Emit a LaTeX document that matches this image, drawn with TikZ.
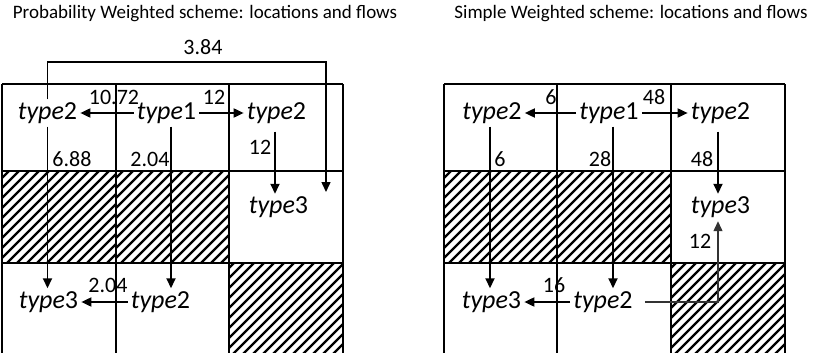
\documentclass[tikz,border=0pt]{standalone}
\usepackage{fontspec}
\setmainfont{Carlito}
\usepackage{tikz}
\usetikzlibrary{arrows.meta}

\begin{document}
\begin{tikzpicture}[
  x=1pt,
  y=-1pt,
  every node/.style={font=\fontsize{22}{25}\selectfont},
  title/.style={font=\fontsize{19}{23}\selectfont},
  loc/.style={inner sep=3pt, font=\fontsize{26}{29}\selectfont},
  val/.style={inner sep=0pt},
  grid/.style={draw=black, line width=1.3pt},
  hatch/.style={draw=black, line width=2.3pt},
  flow/.style={-{Triangle[length=10pt,width=9pt]}, draw=black, line width=1.8pt},
  bracket/.style={-{Triangle[length=10pt,width=9pt]}, draw=black, line width=1.5pt}
]
\useasboundingbox (0,0) rectangle (816,353);

% hatched (blocked) cells
\foreach \cx/\cy/\cw/\ch in {2/171/114/92, 116/171/113/92, 229/263/114/90,
    444/171/113/92, 557/171/114/92, 671/263/114/90} {
  \begin{scope}
    \clip (\cx,\cy) rectangle ++(\cw,\ch);
    \foreach \k in {0,...,22}
      \draw[hatch] (\cx-100+\k*10,\cy+\ch+5) -- ++(110,-110);
  \end{scope}
}

% grids
\foreach \gx in {2,116,229,343,444,557,671,785}
  \draw[grid] (\gx,84) -- (\gx,353);
\foreach \gy in {84,171,263} {
  \draw[grid] (2,\gy) -- (343,\gy);
  \draw[grid] (444,\gy) -- (785,\gy);
}

% Probability Weighted scheme
\node[title] (pwtitle) at (205,14) {Probability Weighted scheme: locations and flows};

\node[loc] (pwtwo) at (47.5,113) {\textit{type}2};
\node[loc] (pwone) at (166.5,113) {\textit{type}1};
\node[loc] (pwtworight) at (276.5,113) {\textit{type}2};
\node[loc] (pwthree) at (278.5,207.5) {\textit{type}3};
\node[loc] (pwthreelow) at (48.5,302) {\textit{type}3};
\node[loc] (pwtwolow) at (160.5,302) {\textit{type}2};

\coordinate (pwbend) at (326,62);
\coordinate (pwend) at (326,192);
\draw[bracket] (pwtwo.north) |- (pwbend) -- (pwend);
\node[val] (pwlong) at (203,47) {3.84};

\draw[flow] (pwone.west) -- (pwtwo.east);
\node[val] (pwleft) at (114,97) {10.72};
\draw[flow] (pwone.east) -- (pwtworight.west);
\node[val] (pwright) at (214,97) {12};

\draw[flow, shorten <=5pt] ([xshift=-1.5pt]pwtworight.south) -- ([xshift=-1.5pt]pwtworight.south |- pwthree.north);
\node[val] (pwdownright) at (260,147) {12};

\draw[flow] (pwtwo.south) -- (pwtwo.south |- pwthreelow.north);
\node[val] (pwdownleft) at (72,159) {6.88};
\draw[flow] ([xshift=4.5pt]pwone.south) -- ([xshift=4.5pt]pwone.south |- pwtwolow.north);
\node[val] (pwdownmid) at (150,159) {2.04};

\draw[flow] (pwtwolow.west) -- (pwthreelow.east);
\node[val] (pwlow) at (108,285) {2.04};

% Simple Weighted scheme
\node[title] (swtitle) at (631,14) {Simple Weighted scheme: locations and flows};

\node[loc] (swtwo) at (492,113) {\textit{type}2};
\node[loc] (swone) at (609,113) {\textit{type}1};
\node[loc] (swtworight) at (720.5,113) {\textit{type}2};
\node[loc] (swthree) at (720.5,207.5) {\textit{type}3};
\node[loc] (swthreelow) at (491.5,302) {\textit{type}3};
\node[loc] (swtwolow) at (603,302) {\textit{type}2};

\draw[flow] (swone.west) -- (swtwo.east);
\node[val] (swleft) at (551,97) {6};
\draw[flow] (swone.east) -- (swtworight.west);
\node[val] (swright) at (654,97) {48};

\draw[flow, shorten <=5pt] ([xshift=-2.5pt]swtworight.south) -- ([xshift=-2.5pt]swtworight.south |- swthree.north);
\node[val] (swdownright) at (702,159) {48};

\draw[flow] ([xshift=-2pt]swtwo.south) -- ([xshift=-2pt]swtwo.south |- swthreelow.north);
\node[val] (swdownleft) at (500,159) {6};
\draw[flow] ([xshift=4pt]swone.south) -- ([xshift=4pt]swone.south |- swtwolow.north);
\node[val] (swdownmid) at (600,159) {28};

\draw[flow] (swtwolow.west) -- (swthreelow.east);
\node[val] (swlow) at (554,285) {16};

\draw[flow, line width=1.3pt, draw=black!80, shorten <=9pt] (swtwolow.east) -| ([xshift=-2.5pt]swthree.south);
\node[val] (swup) at (700,241) {12};

\end{tikzpicture}
\end{document}
